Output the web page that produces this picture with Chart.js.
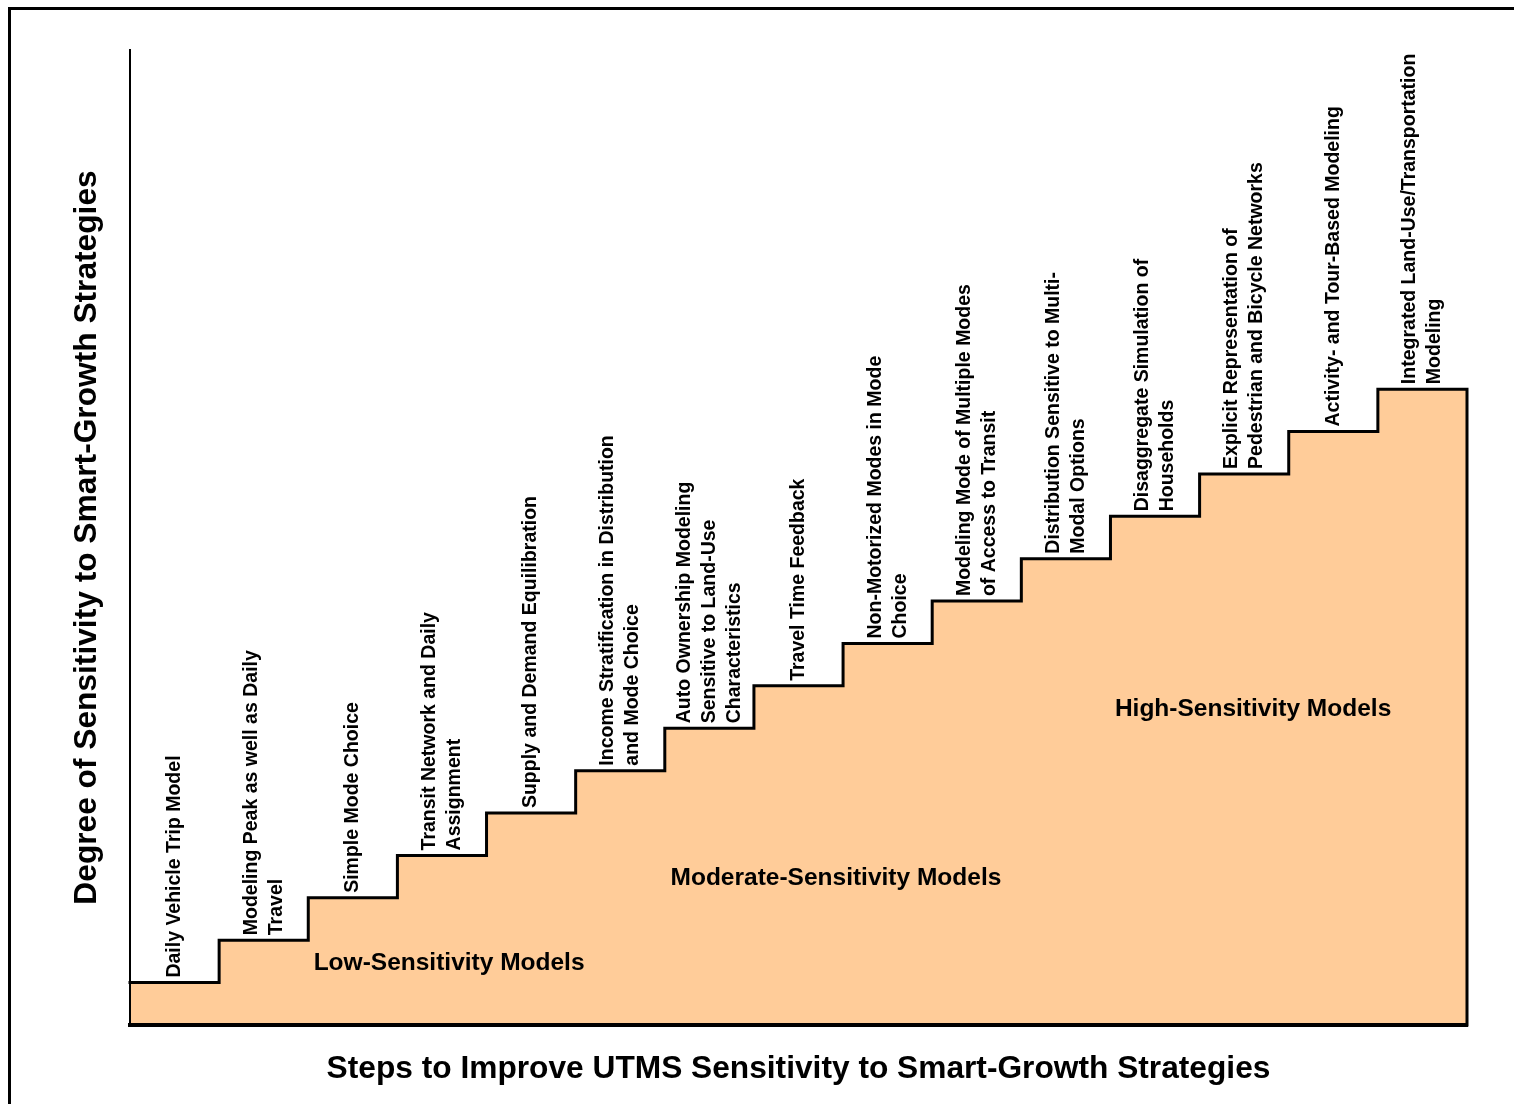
<!DOCTYPE html>
<html>
<head>
<meta charset="utf-8">
<script src="https://cdn.jsdelivr.net/npm/chart.js@4/dist/chart.umd.min.js"></script>
<style>
  html, body { margin: 0; padding: 0; background: #fff; }
  #frame { position: absolute; left: 8px; top: 7px; width: 1520px; height: 1110px;
           border-top: 3px solid #000; border-left: 3px solid #000; box-sizing: border-box; }
  #wrap { position: absolute; left: 0; top: 0; width: 1514px; height: 1104px; }
</style>
</head>
<body>
<div id="frame"></div>
<div id="wrap"><canvas id="c"></canvas></div>
<script>
// ---- data ----
const categories = [
  ["Daily Vehicle Trip Model"],
  ["Modeling Peak as well as Daily", "Travel"],
  ["Simple Mode Choice"],
  ["Transit Network and Daily", "Assignment"],
  ["Supply and Demand Equilibration"],
  ["Income Stratification in Distribution", "and Mode Choice"],
  ["Auto Ownership Modeling", "Sensitive to Land-Use", "Characteristics"],
  ["Travel Time Feedback"],
  ["Non-Motorized Modes in Mode", "Choice"],
  ["Modeling Mode of Multiple Modes", "of Access to Transit"],
  ["Distribution Sensitive to Multi-", "Modal Options"],
  ["Disaggregate Simulation of", "Households"],
  ["Explicit Representation of", "Pedestrian and Bicycle Networks"],
  ["Activity- and Tour-Based Modeling"],
  ["Integrated Land-Use/Transportation", "Modeling"]
];
const stepLevels = [1, 2, 3, 4, 5, 6, 7, 8, 9, 10, 11, 12, 13, 14, 15];
const regionLabels = ["Low-Sensitivity Models", "Moderate-Sensitivity Models", "High-Sensitivity Models"];
const xTitle = "Steps to Improve UTMS Sensitivity to Smart-Growth Strategies";
const yTitle = "Degree of Sensitivity to Smart-Growth Strategies";

// ---- build staircase points from the data ----
const stairPoints = stepLevels.map((v, i) => ({ x: i, y: v }));
stairPoints.push({ x: stepLevels.length, y: stepLevels[stepLevels.length - 1] });
stairPoints.push({ x: stepLevels.length, y: 0 });

const FONT = "'Liberation Sans', Arial, Helvetica, sans-serif";

const stepLabelPlugin = {
  id: 'stepLabels',
  afterDatasetsDraw(chart, args, opts) {
    const { ctx, scales: { x, y } } = chart;
    ctx.save();
    ctx.fillStyle = '#000';
    ctx.font = 'bold 19.5px ' + FONT;
    ctx.textAlign = 'left';
    ctx.textBaseline = 'middle';
    categories.forEach((lines, i) => {
      const cx = x.getPixelForValue(i + 0.5);
      const by = y.getPixelForValue(stepLevels[i]) - 5;
      ctx.save();
      ctx.translate(cx, by);
      ctx.rotate(-Math.PI / 2);
      const n = lines.length;
      lines.forEach((t, j) => {
        ctx.fillText(t, 0, (j - (n - 1) / 2) * 25);
      });
      ctx.restore();
    });
    // region labels
    ctx.font = 'bold 24.5px ' + FONT;
    ctx.textAlign = 'center';
    opts.anchors.forEach((a, k) => {
      ctx.fillText(regionLabels[k], x.getPixelForValue(a[0]), y.getPixelForValue(a[1]));
    });
    ctx.restore();
  }
};

new Chart(document.getElementById('c'), {
  type: 'line',
  data: {
    datasets: [{
      data: stairPoints,
      stepped: 'before',
      fill: 'origin',
      backgroundColor: 'rgb(255,204,153)',
      borderColor: '#000',
      borderWidth: 3,
      pointRadius: 0,
      borderJoinStyle: 'miter',
      borderCapStyle: 'square',
      clip: 4
    }]
  },
  options: {
    responsive: true,
    maintainAspectRatio: false,
    animation: false,
    layout: { padding: { top: 50, right: 47, left: 0, bottom: 0 } },
    plugins: {
      legend: { display: false },
      tooltip: { enabled: false },
      stepLabels: { anchors: [[3.58, 1.46], [7.92, 3.46], [12.6, 7.46]] }
    },
    scales: {
      x: {
        type: 'linear', min: 0, max: 15, z: 1,
        grid: { display: false },
        border: { display: true, color: '#000', width: 4, z: 2 },
        ticks: { display: false },
        title: { display: true, text: xTitle, color: '#000',
                 font: { family: FONT, size: 31.7, weight: 'bold' },
                 padding: { top: 0, bottom: 16 } },
        afterFit(s) { s.height = 79; }
      },
      y: {
        min: 0, max: 23, z: 1,
        grid: { display: false },
        border: { display: true, color: '#000', width: 2, z: 2 },
        ticks: { display: false },
        title: { display: true, text: yTitle, color: '#000',
                 font: { family: FONT, size: 31.7, weight: 'bold' },
                 padding: { top: 68, bottom: 0 } },
        afterFit(s) { s.width = 130; }
      }
    }
  },
  plugins: [stepLabelPlugin]
});
</script>
</body>
</html>
